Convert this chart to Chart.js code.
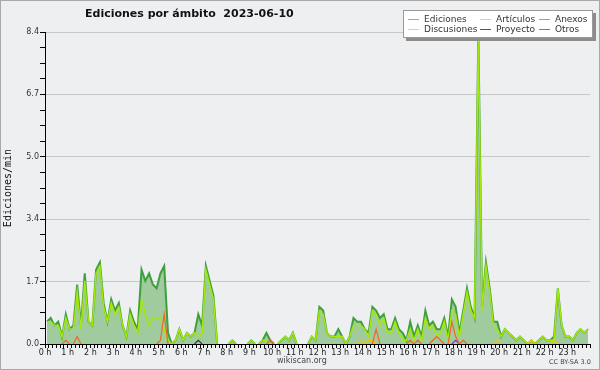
<!DOCTYPE html>
<html>
<head>
<meta charset="utf-8">
<script src="https://cdn.jsdelivr.net/npm/chart.js@4/dist/chart.umd.min.js"></script>
<style>
html, body { margin: 0; padding: 0; background: #eeeff1; }
#wrap { position: relative; width: 600px; height: 370px; overflow: hidden; background: #eeeff1; }
#chart { position: absolute; left: 0; top: 0; }
#frame { position: absolute; left: 0; top: 0; width: 598px; height: 368px; border: 1px solid #a8a8a8; pointer-events: none; }
#title { position: absolute; left: 85px; top: 7px; font: bold 11px "DejaVu Sans", sans-serif; color: #111; white-space: pre; }
#legend { position: absolute; left: 403px; top: 10px; width: 188px; height: 26px; background: #fff; border: 1px solid #9a9a9a; box-shadow: 3px 3px 0 #8c8c8c; }
#legend .sw { position: absolute; width: 11px; height: 1px; }
#legend .lt { position: absolute; font: 9px "DejaVu Sans", sans-serif; color: #333; line-height: 10px; white-space: nowrap; }
#site { position: absolute; left: 277px; top: 356px; font: 8px "DejaVu Sans", sans-serif; color: #444; }
#lic { position: absolute; left: 549px; top: 358px; font: 6.5px "DejaVu Sans", sans-serif; color: #444; }
</style>
</head>
<body>
<div id="wrap">
  <canvas id="chart" width="600" height="370"></canvas>
  <div id="title">Ediciones por ámbito  2023-06-10</div>
  <div id="legend"></div>
  <div id="site">wikiscan.org</div>
  <div id="lic">CC BY-SA 3.0</div>
  <div id="frame"></div>
</div>
<script>
// 10-minute slots, value = edits per minute
const hourLabels = ['0 h','1 h','2 h','3 h','4 h','5 h','6 h','7 h','8 h','9 h','10 h','11 h',
                    '12 h','13 h','14 h','15 h','16 h','17 h','18 h','19 h','20 h','21 h','22 h','23 h'];

const ediciones = [
  0.6,0.7,0.5,0.6,0.2,0.8, 0.4,0.5,1.6,0.5,1.9,0.6,   // 0h - 1h50
  0.5,2.0,2.2,1.1,0.6,1.2, 0.9,1.1,0.5,0.2,0.9,0.6,   // 2h - 3h50
  0.4,2.0,1.7,1.9,1.6,1.5, 1.9,2.1,0.3,0.0,0.1,0.4,   // 4h - 5h50
  0.1,0.3,0.2,0.3,0.8,0.5, 2.1,1.7,1.3,0.0,0.0,0.0,   // 6h - 7h50
  0.0,0.1,0.0,0.0,0.0,0.0, 0.1,0.0,0.0,0.1,0.3,0.1,   // 8h - 9h50
  0.0,0.0,0.1,0.2,0.1,0.3, 0.0,0.0,0.0,0.0,0.2,0.1,   // 10h - 11h50
  1.0,0.9,0.3,0.2,0.2,0.4, 0.2,0.0,0.2,0.7,0.6,0.6,   // 12h - 13h50
  0.4,0.3,1.0,0.9,0.7,0.8, 0.4,0.4,0.7,0.4,0.3,0.1,   // 14h - 15h50
  0.6,0.2,0.5,0.2,0.9,0.5, 0.6,0.4,0.4,0.7,0.2,1.2,   // 16h - 17h50
  1.0,0.3,0.9,1.5,1.0,0.7, 8.4,1.0,2.2,1.5,0.6,0.6,   // 18h - 19h50
  0.2,0.4,0.3,0.2,0.1,0.2, 0.1,0.0,0.1,0.0,0.1,0.2,   // 20h - 21h50
  0.1,0.1,0.2,1.5,0.5,0.2, 0.2,0.1,0.3,0.4,0.3,0.4    // 22h - 23h50
];
const articulos = [
  0.6,0.6,0.5,0.5,0.2,0.7, 0.4,0.4,1.4,0.4,1.7,0.6,
  0.5,1.9,2.1,1.0,0.6,1.1, 0.8,1.0,0.5,0.2,0.8,0.5,
  0.3,1.2,0.8,0.5,0.7,0.7, 0.7,0.4,0.1,0.0,0.1,0.4,
  0.1,0.3,0.2,0.3,0.2,0.3, 2.0,1.6,1.2,0.0,0.0,0.0,
  0.0,0.1,0.0,0.0,0.0,0.0, 0.1,0.0,0.0,0.1,0.1,0.0,
  0.0,0.0,0.1,0.2,0.1,0.3, 0.0,0.0,0.0,0.0,0.2,0.1,
  0.9,0.8,0.3,0.2,0.2,0.2, 0.2,0.0,0.2,0.5,0.5,0.5,
  0.4,0.2,0.9,0.8,0.5,0.7, 0.3,0.3,0.6,0.3,0.1,0.1,
  0.4,0.1,0.4,0.1,0.7,0.4, 0.5,0.2,0.3,0.6,0.1,0.9,
  0.8,0.2,0.8,1.4,0.9,0.7, 8.2,0.9,2.1,1.4,0.5,0.4,
  0.2,0.4,0.3,0.2,0.1,0.2, 0.1,0.0,0.1,0.0,0.1,0.2,
  0.1,0.1,0.1,1.5,0.5,0.2, 0.2,0.1,0.3,0.4,0.3,0.4
];
const anexos = [
  0,0,0,0,0,0.1, 0,0,0.2,0,0,0,
  0,0,0,0,0,0, 0,0,0,0,0,0,
  0,0,0,0,0,0, 0.1,0.8,0,0,0,0,
  0,0,0,0,0,0, 0,0,0,0,0,0,
  0,0,0,0,0,0, 0,0,0,0,0,0.1,
  0,0,0,0,0,0, 0,0,0,0,0,0,
  0,0,0,0,0,0, 0,0,0,0,0,0,
  0,0,0,0.4,0,0, 0,0,0,0,0,0,
  0.1,0,0.1,0,0,0, 0.1,0.2,0.1,0,0,0.6,
  0.2,0,0.1,0,0,0, 0,0,0,0,0,0,
  0,0,0,0,0,0, 0,0,0,0,0,0,
  0,0,0,0,0,0, 0,0,0,0,0,0
];
const discusiones = [
  0,0,0,0,0,0, 0,0,0,0,0,0,
  0,0,0,0,0,0, 0,0,0,0,0,0,
  0,0,0,0,0,0, 0,0,0,0,0,0,
  0,0,0,0,0,0, 0,0,0,0,0,0,
  0,0,0,0,0,0, 0,0,0,0,0,0,
  0,0,0,0,0,0, 0,0,0,0,0,0,
  0,0,0,0,0,0, 0,0,0,0,0,0.1,
  0,0.1,0.1,0,0,0, 0,0,0,0,0,0,
  0,0,0,0,0,0, 0,0,0,0,0,0,
  0,0,0,0,0,0, 0,0,0,0,0,0.1,
  0,0,0,0,0,0, 0,0,0.1,0,0,0,
  0,0,0.1,0,0,0, 0,0,0,0,0,0
];
const proyecto = [
  0,0,0,0,0,0, 0,0,0,0,0,0,
  0,0,0,0,0,0, 0,0,0,0,0,0,
  0,0,0,0,0,0, 0,0,0,0,0,0,
  0,0,0,0,0.1,0, 0,0,0,0,0,0,
  0,0,0,0,0,0, 0,0,0,0,0,0,
  0,0,0,0,0,0, 0,0,0,0,0,0,
  0,0,0,0,0,0, 0,0,0,0,0,0,
  0,0,0,0,0,0, 0,0,0,0,0,0,
  0,0,0,0,0,0, 0,0,0,0,0,0,
  0,0,0,0,0,0, 0,0,0,0,0,0,
  0,0,0,0,0,0, 0,0,0,0,0,0,
  0,0,0,0,0,0, 0,0,0,0,0,0
];
const otros = [
  0,0,0,0,0,0, 0,0,0,0,0,0,
  0,0,0,0,0,0, 0,0,0,0,0,0,
  0,0,0,0,0,0, 0,0,0,0,0,0,
  0,0,0,0,0,0, 0,0,0,0,0,0,
  0,0,0,0,0,0, 0,0,0,0,0,0,
  0,0,0,0,0,0, 0,0,0,0,0,0,
  0,0,0,0,0,0, 0,0,0,0,0,0,
  0,0,0,0,0,0, 0,0,0,0,0,0,
  0,0,0,0,0,0, 0,0,0,0,0,0,
  0.1,0,0,0,0,0, 0,0,0,0,0,0,
  0,0,0,0,0,0, 0,0,0,0,0,0,
  0,0,0,0,0,0, 0,0,0,0,0,0
];

// slot centres in minutes
const slots = ediciones.map((v, i) => i * 10 + 5);
const pts = arr => arr.map((v, i) => ({x: slots[i], y: v}));

// hide flat zero runs like the original
const hideZero = {
	borderColor: ctx => (ctx.p0.parsed.y === 0 && ctx.p1.parsed.y === 0) ? 'rgba(0,0,0,0)' : undefined
};

function line(label, data, color, legendColor, order, width) {
	return {
		label: label,
		data: pts(data),
		borderColor: color,
		legendColor: legendColor,
		borderWidth: width,
		pointRadius: 0,
		tension: 0,
		fill: false,
		order: order,
		segment: hideZero,
	};
}

const ed = line('Ediciones', ediciones, '#3f9f3f', '#66cc66', 10, 2);
ed.fill = 'origin';
ed.backgroundColor = '#9fcb9f';

const datasets = [
	ed,
	line('Artículos', articulos, '#a6e80a', '#c4f040', 5, 1.5),
	line('Anexos', anexos, '#f5651e', '#ff7f4a', 1, 1.2),
	line('Discusiones', discusiones, '#f8c400', '#ffd040', 2, 1.2),
	line('Proyecto', proyecto, '#333333', '#555555', 1, 1.2),
	line('Otros', otros, '#8a2be2', '#a050ff', 1, 1.2),
];

// legend: 3 columns, 2 rows
const legendOrder = ['Ediciones', 'Artículos', 'Anexos', 'Discusiones', 'Proyecto', 'Otros'];
const colX = [4, 76, 135];
const rowY = [3, 13];
const legend = document.getElementById('legend');
legendOrder.forEach((name, k) => {
	const d = datasets.find(ds => ds.label === name);
	const cx = colX[k % 3], cy = rowY[Math.floor(k / 3)];
	const sw = document.createElement('span');
	sw.className = 'sw';
	sw.style.left = cx + 'px';
	sw.style.top = (cy + 5) + 'px';
	sw.style.background = d.legendColor;
	legend.appendChild(sw);
	const t = document.createElement('span');
	t.className = 'lt';
	t.style.left = (cx + 16) + 'px';
	t.style.top = cy + 'px';
	t.textContent = name;
	legend.appendChild(t);
});

new Chart(document.getElementById('chart'), {
	type: 'line',
	data: {datasets: datasets},
	options: {
		responsive: false,
		animation: false,
		devicePixelRatio: 1,
		layout: {padding: {left: 0, right: 10, top: 32, bottom: 0}},
		plugins: {
			legend: {display: false},
			title: {display: false},
			tooltip: {enabled: false},
		},
		scales: {
			x: {
				type: 'linear',
				min: 0,
				max: 1440,
				z: 1,
				afterBuildTicks: s => {
					s.ticks = Array.from({length: 145}, (_, k) => ({value: k * 10}));
				},
				afterFit: s => { s.height = 26; },
				ticks: {
					autoSkip: false,
					maxRotation: 0,
					minRotation: 0,
					padding: 0,
					color: '#222',
					font: {family: 'DejaVu Sans', size: 8},
					callback: v => (v % 60 === 0 && v < 1440) ? hourLabels[v / 60] : '',
				},
				grid: {drawOnChartArea: false, tickLength: 4, tickColor: '#000', tickWidth: 1},
				border: {color: '#000', width: 1},
			},
			y: {
				min: 0,
				max: 8.4,
				afterBuildTicks: s => {
					s.ticks = Array.from({length: 21}, (_, k) => ({value: k * 0.42}));
				},
				afterFit: s => { s.width = 45; },
				ticks: {
					autoSkip: false,
					padding: 1,
					color: '#333',
					font: {family: 'DejaVu Sans', size: 8},
					callback: (v, idx) => (idx % 4 === 0) ? v.toFixed(1) : '',
				},
				grid: {
					color: c => (c.index % 4 === 0 && c.index > 0) ? '#c8c8c8' : 'rgba(0,0,0,0)',
					tickColor: '#000',
					tickLength: 5,
				},
				border: {color: '#000', width: 1},
				title: {
					display: true,
					text: 'Ediciones/min',
					color: '#111',
					font: {family: 'DejaVu Sans Mono', size: 10},
					padding: {top: 2, bottom: 0},
				},
			},
		},
	},
});
</script>
</body>
</html>
